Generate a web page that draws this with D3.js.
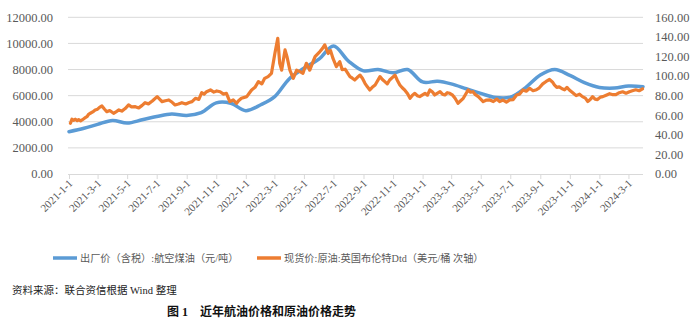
<!DOCTYPE html>
<html><head><meta charset="utf-8">
<script src="https://cdn.jsdelivr.net/npm/d3@7"></script>
<style>
html,body{margin:0;padding:0;background:#fff;}
svg{display:block;}
</style></head>
<body>
<script>
// ---------- data ----------
const xTickLabels = ["2021-1-1","2021-3-1","2021-5-1","2021-7-1","2021-9-1","2021-11-1","2022-1-1","2022-3-1","2022-5-1","2022-7-1","2022-9-1","2022-11-1","2023-1-1","2023-3-1","2023-5-1","2023-7-1","2023-9-1","2023-11-1","2024-1-1","2024-3-1"];
const leftTicks = [0,2000,4000,6000,8000,10000,12000];
const rightTicks = [0,20,40,60,80,100,120,140,160];

const jetDates = ["2021-01-01","2021-02-01","2021-03-01","2021-04-01","2021-05-01","2021-06-01","2021-07-01","2021-08-01","2021-09-01","2021-10-01","2021-11-01","2021-12-01",
"2022-01-01","2022-02-01","2022-03-01","2022-04-01","2022-05-01","2022-06-01","2022-07-01","2022-08-01","2022-09-01","2022-10-01","2022-11-01","2022-12-01",
"2023-01-01","2023-02-01","2023-03-01","2023-04-01","2023-05-01","2023-06-01","2023-07-01","2023-08-01","2023-09-01","2023-10-01","2023-11-01","2023-12-01",
"2024-01-01","2024-02-01","2024-03-01","2024-03-31"];
const jetValues = [3240,3500,3800,4100,3900,4150,4400,4600,4480,4700,5450,5420,
4850,5300,5900,7300,8100,8800,9800,8650,7900,8000,7750,8000,
7050,7100,6900,6530,6170,5850,5880,6600,7580,8000,7550,7000,
6630,6580,6730,6690];

const brentDates = ["2021-01-04","2021-01-07","2021-01-11","2021-01-14","2021-01-18","2021-01-21","2021-01-25","2021-01-28","2021-02-02","2021-02-07","2021-02-11","2021-02-14","2021-02-19","2021-02-24","2021-03-01","2021-03-05","2021-03-10","2021-03-15","2021-03-20","2021-03-26","2021-04-03","2021-04-08","2021-04-14","2021-04-20","2021-04-27","2021-05-04","2021-05-10","2021-05-18","2021-05-25","2021-06-01","2021-06-07","2021-06-14","2021-06-22","2021-07-02","2021-07-07","2021-07-12","2021-07-19","2021-07-26","2021-08-02","2021-08-08","2021-08-15","2021-08-22","2021-08-30","2021-09-06","2021-09-12","2021-09-19","2021-09-26","2021-10-02","2021-10-07","2021-10-12","2021-10-20","2021-10-27","2021-11-02","2021-11-09","2021-11-16","2021-11-22","2021-11-29","2021-12-06","2021-12-13","2021-12-17","2021-12-23","2022-01-03","2022-01-08","2022-01-13","2022-01-20","2022-01-27","2022-02-03","2022-02-09","2022-02-16","2022-02-23","2022-03-02","2022-03-08","2022-03-12","2022-03-16","2022-03-23","2022-03-27","2022-04-02","2022-04-09","2022-04-16","2022-04-23","2022-04-29","2022-05-06","2022-05-13","2022-05-18","2022-05-24","2022-06-03","2022-06-08","2022-06-13","2022-06-20","2022-06-25","2022-06-30","2022-07-07","2022-07-14","2022-07-19","2022-07-25","2022-08-04","2022-08-09","2022-08-14","2022-08-19","2022-08-25","2022-08-30","2022-09-04","2022-09-09","2022-09-14","2022-09-19","2022-09-25","2022-10-05","2022-10-10","2022-10-15","2022-10-20","2022-10-25","2022-11-05","2022-11-10","2022-11-15","2022-11-20","2022-11-25","2022-12-01","2022-12-06","2022-12-11","2022-12-16","2022-12-21","2022-12-26","2023-01-06","2023-01-11","2023-01-16","2023-01-21","2023-01-26","2023-02-01","2023-02-06","2023-02-11","2023-02-16","2023-02-21","2023-02-26","2023-03-04","2023-03-09","2023-03-15","2023-03-20","2023-03-26","2023-04-05","2023-04-10","2023-04-15","2023-04-20","2023-04-26","2023-05-01","2023-05-06","2023-05-13","2023-05-20","2023-05-27","2023-06-03","2023-06-09","2023-06-16","2023-06-23","2023-06-30","2023-07-07","2023-07-14","2023-07-20","2023-07-27","2023-08-03","2023-08-10","2023-08-17","2023-08-24","2023-08-30","2023-09-06","2023-09-13","2023-09-20","2023-09-26","2023-09-30","2023-10-05","2023-10-10","2023-10-16","2023-10-21","2023-10-26","2023-10-31","2023-11-07","2023-11-14","2023-11-21","2023-11-27","2023-12-03","2023-12-08","2023-12-13","2023-12-18","2023-12-23","2023-12-28","2024-01-03","2024-01-08","2024-01-15","2024-01-22","2024-01-29","2024-02-04","2024-02-11","2024-02-18","2024-02-25","2024-03-03","2024-03-09","2024-03-16","2024-03-23","2024-03-30"];
const brentValues = [51.8,55.9,54.8,56.0,54.5,55.5,54.3,55.2,57.0,58.5,61.2,62.0,63.4,65.4,66.2,68.0,69.5,66.4,63.6,64.8,62.0,63.5,65.4,64.2,66.8,70.5,68.6,68.7,67.5,70.1,72.8,71.6,74.5,79.0,76.5,73.9,74.8,75.6,73.2,70.5,71.4,72.8,71.5,73.0,73.9,77.3,76.2,83.0,81.5,84.0,85.8,83.6,84.8,84.0,81.6,82.4,73.9,75.6,72.2,74.8,77.3,79.0,82.4,85.8,88.5,94.3,92.0,97.7,99.5,102.8,123.0,138.6,113.0,106.0,126.7,119.8,106.0,97.7,106.0,104.5,102.8,113.0,106.0,112.4,119.8,125.0,128.0,131.8,123.0,126.0,118.0,109.6,114.7,106.5,107.0,99.4,97.8,96.0,98.5,101.0,97.5,92.6,89.0,85.8,88.5,90.9,99.4,96.5,94.3,92.0,96.0,101.0,95.5,90.9,88.0,85.8,82.0,77.3,80.5,82.4,80.0,79.0,82.4,80.5,85.8,84.0,80.7,82.5,84.0,81.5,80.7,83.0,82.4,80.5,77.3,72.2,74.5,77.3,85.8,83.5,84.0,81.0,79.0,76.5,73.9,75.5,75.6,74.0,76.5,73.9,75.5,73.5,75.6,76.0,80.7,81.5,85.8,84.5,87.5,85.0,86.0,88.0,92.0,94.5,96.5,94.0,91.0,88.5,89.0,87.0,86.0,88.5,85.8,83.0,80.0,81.5,79.0,77.5,74.0,76.0,79.0,76.5,76.0,78.5,79.0,80.5,82.0,81.0,81.0,83.0,84.0,82.5,84.0,85.0,86.0,85.0,87.0];

// ---------- layout ----------
const W = 700, H = 322;
const parse = d3.timeParse("%Y-%m-%d");
const parseTick = d3.timeParse("%Y-%m-%d");
const x = d3.scaleTime().domain([parse("2021-01-01"), parse("2024-03-31")]).range([69, 643]);
const yL = d3.scaleLinear().domain([0, 12000]).range([174, 17.3]);
const yR = d3.scaleLinear().domain([0, 160]).range([174, 17.3]);

const serif = "'Liberation Serif','Times New Roman','Noto Sans CJK SC',serif";
const cjk = "'Liberation Serif','Noto Sans CJK SC',sans-serif";
const gray = "#595959";

const svg = d3.select("body").append("svg").attr("width", W).attr("height", H);

// gridlines
svg.append("g").selectAll("line").data(leftTicks.filter(d => d > 0)).join("line")
  .attr("x1", 68).attr("x2", 643)
  .attr("y1", d => yL(d)).attr("y2", d => yL(d))
  .attr("stroke", "#D9D9D9").attr("stroke-width", 1);

// left axis labels
svg.append("g").selectAll("text").data(leftTicks).join("text")
  .attr("x", 53).attr("y", d => yL(d)).attr("dy", "0.35em")
  .attr("text-anchor", "end").attr("font-family", serif).attr("font-size", 12.5)
  .attr("fill", gray).text(d => d3.format(".2f")(d));

// right axis labels
svg.append("g").selectAll("text").data(rightTicks).join("text")
  .attr("x", 655).attr("y", d => yR(d)).attr("dy", "0.35em")
  .attr("text-anchor", "start").attr("font-family", serif).attr("font-size", 12.5)
  .attr("fill", gray).text(d => d3.format(".2f")(d));

// x axis
const tickDates = xTickLabels.map(s => {
  const p = s.split("-");
  return new Date(+p[0], +p[1] - 1, +p[2]);
});
const xAxis = d3.axisBottom(x).tickValues(tickDates).tickSize(5).tickSizeOuter(0)
  .tickFormat((d, i) => xTickLabels[i]);
const gx = svg.append("g").attr("transform", "translate(0,174)").call(xAxis);
gx.select(".domain").attr("stroke", "#D9D9D9").attr("d", "M68,0.5H643");
gx.selectAll(".tick line").attr("stroke", "#D9D9D9");
gx.selectAll(".tick text")
  .attr("font-family", serif).attr("font-size", 11).attr("fill", gray)
  .attr("text-anchor", "end").attr("dy", null).attr("y", null)
  .attr("transform", "translate(4,10) rotate(-45)");

// lines
const jet = jetDates.map((d, i) => ({ date: parse(d), v: jetValues[i] }));
const brent = brentDates.map((d, i) => ({ date: parse(d), v: brentValues[i] }));

svg.append("path").datum(jet)
  .attr("fill", "none").attr("stroke", "#5B9BD5").attr("stroke-width", 3.5)
  .attr("stroke-linejoin", "round").attr("stroke-linecap", "round")
  .attr("d", d3.line().x(d => x(d.date)).y(d => yL(d.v)).curve(d3.curveCatmullRom.alpha(0.5)));

svg.append("path").datum(brent)
  .attr("fill", "none").attr("stroke", "#ED7D31").attr("stroke-width", 3.2)
  .attr("stroke-linejoin", "round").attr("stroke-linecap", "round")
  .attr("d", d3.line().x(d => x(d.date)).y(d => yR(d.v)));

// legend
const legend = [
  { label: "出厂价（含税）:航空煤油（元/吨）", color: "#5B9BD5", x: 53 },
  { label: "现货价:原油:英国布伦特Dtd（美元/桶 次轴）", color: "#ED7D31", x: 257 }
];
const lg = svg.append("g");
legend.forEach(l => {
  lg.append("line").attr("x1", l.x).attr("x2", l.x + 24).attr("y1", 258).attr("y2", 258)
    .attr("stroke", l.color).attr("stroke-width", 3.5);
  lg.append("text").attr("x", l.x + 27).attr("y", 258).attr("dy", "0.36em")
    .attr("font-family", cjk).attr("font-size", 10.2).attr("fill", gray).text(l.label);
});

// source
svg.append("text").attr("x", 12).attr("y", 290).attr("dy", "0.36em")
  .attr("font-family", cjk).attr("font-size", 10.5).attr("fill", "#222")
  .text("资料来源：联合资信根据 Wind 整理");

// title
svg.append("text").attr("x", 167).attr("y", 312).attr("dy", "0.36em")
  .attr("font-family", cjk).attr("font-size", 12).attr("font-weight", "bold").attr("fill", "#111")
  .text("图 1　近年航油价格和原油价格走势");
</script>
</body></html>
